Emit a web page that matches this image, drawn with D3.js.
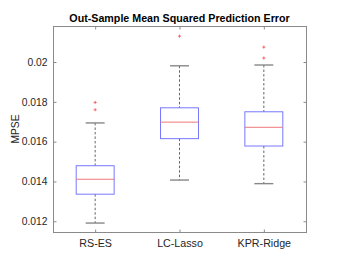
<!DOCTYPE html>
<head>
    <script src="https://d3js.org/d3.v7.js"></script>
    <style>
        body { margin: 0; background: #fff; }
        text { font-family: "Liberation Sans", Arial, sans-serif; }
    </style>
</head>
<html>
<body>
<div class="graph"></div>
<script>
    // values
    const groups    = ['RS-ES', 'LC-Lasso', 'KPR-Ridge']
    const whiskerLo = [0.01191, 0.01407, 0.01389]
    const q1        = [0.01336, 0.01615, 0.01578]
    const medians   = [0.01411, 0.01698, 0.01672]
    const q3        = [0.01479, 0.01770, 0.01750]
    const whiskerHi = [0.01694, 0.01981, 0.01985]
    const outliers  = [[0.01797, 0.01760], [0.02130], [0.02075, 0.02020]]
    const yTicks    = [0.012, 0.014, 0.016, 0.018, 0.02]

    const w = 346
    const h = 268
    const padLeft = 53, padRight = 306, padTop = 26, padBottom = 232

    const data = groups.map((g, i) => ({
        name: g, lo: whiskerLo[i], q1: q1[i], med: medians[i], q3: q3[i], hi: whiskerHi[i], out: outliers[i]
    }))

    const xScale = d3.scalePoint()
        .domain(groups)
        .range([padLeft, padRight])
        .padding(0.5)

    const yScale = d3.scaleLinear()
        .domain([0.01146, 0.02181])
        .range([padBottom, padTop])

    const boxW = xScale.step() * 0.45
    const capW = boxW / 2

    const svg = d3.select('.graph')
        .append('svg')
        .attr('width', w)
        .attr('height', h)

    svg.append('rect')
        .attr('width', w).attr('height', h)
        .attr('fill', '#fff')

    const axisColor = '#8a8a8a'
    const fmt = d => d3.format('')(+d.toFixed(3))

    // frame
    svg.append('rect')
        .attr('x', padLeft + 0.5).attr('y', padTop + 0.5)
        .attr('width', padRight - padLeft).attr('height', padBottom - padTop)
        .attr('fill', 'none')
        .attr('stroke', axisColor)

    const styleAxis = (g, size) => {
        g.select('.domain').remove()
        g.selectAll('line').attr('stroke', axisColor)
        g.selectAll('text')
            .attr('fill', '#262626')
            .style('font-size', size || '10px')
            .style('font-family', '"Liberation Sans", Arial, sans-serif')
    }

    svg.append('g')
        .attr('transform', 'translate(' + (padLeft + 0.5) + ',0)')
        .call(d3.axisLeft(yScale).tickValues(yTicks).tickFormat(fmt).tickSizeInner(-3).tickSizeOuter(0).tickPadding(6))
        .call(styleAxis, '10.3px')

    svg.append('g')
        .attr('transform', 'translate(' + (padRight + 0.5) + ',0)')
        .call(d3.axisRight(yScale).tickValues(yTicks).tickFormat('').tickSizeInner(-3).tickSizeOuter(0))
        .call(styleAxis)

    svg.append('g')
        .attr('transform', 'translate(0,' + (padBottom + 0.5) + ')')
        .call(d3.axisBottom(xScale).tickSizeInner(-3).tickSizeOuter(0).tickPadding(7))
        .call(styleAxis, '10.7px')

    svg.append('g')
        .attr('transform', 'translate(0,' + (padTop + 0.5) + ')')
        .call(d3.axisTop(xScale).tickFormat('').tickSizeInner(-3).tickSizeOuter(0))
        .call(styleAxis)

    const box = svg.selectAll('.box')
        .data(data)
        .enter()
        .append('g')
        .attr('class', 'box')

    // whiskers
    box.append('line')
        .attr('x1', d => xScale(d.name)).attr('x2', d => xScale(d.name))
        .attr('y1', d => yScale(d.hi)).attr('y2', d => yScale(d.q3))
        .attr('stroke', '#666').attr('stroke-dasharray', '2.5,2')
    box.append('line')
        .attr('x1', d => xScale(d.name)).attr('x2', d => xScale(d.name))
        .attr('y1', d => yScale(d.q1)).attr('y2', d => yScale(d.lo))
        .attr('stroke', '#666').attr('stroke-dasharray', '2.5,2')

    // caps
    box.append('line')
        .attr('x1', d => xScale(d.name) - capW / 2).attr('x2', d => xScale(d.name) + capW / 2)
        .attr('y1', d => yScale(d.hi)).attr('y2', d => yScale(d.hi))
        .attr('stroke', '#888').attr('stroke-width', 1.4)
    box.append('line')
        .attr('x1', d => xScale(d.name) - capW / 2).attr('x2', d => xScale(d.name) + capW / 2)
        .attr('y1', d => yScale(d.lo)).attr('y2', d => yScale(d.lo))
        .attr('stroke', '#888').attr('stroke-width', 1.4)

    // box
    box.append('rect')
        .attr('x', d => xScale(d.name) - boxW / 2)
        .attr('y', d => yScale(d.q3))
        .attr('width', boxW)
        .attr('height', d => yScale(d.q1) - yScale(d.q3))
        .attr('fill', 'none')
        .attr('stroke', '#7777ff')

    // median
    box.append('line')
        .attr('x1', d => xScale(d.name) - boxW / 2).attr('x2', d => xScale(d.name) + boxW / 2)
        .attr('y1', d => yScale(d.med)).attr('y2', d => yScale(d.med))
        .attr('stroke', '#f07878')

    // outliers
    box.selectAll('.out')
        .data(d => d.out.map(v => ({name: d.name, v: v})))
        .enter()
        .append('path')
        .attr('class', 'out')
        .attr('d', d => {
            const x = xScale(d.name), y = yScale(d.v)
            return 'M' + (x - 1.5) + ',' + y + 'H' + (x + 1.5) + 'M' + x + ',' + (y - 1.5) + 'V' + (y + 1.5)
        })
        .attr('stroke', '#ff6060')
        .attr('fill', 'none')

    svg.append('text')
        .attr('x', (padLeft + padRight) / 2)
        .attr('y', 22)
        .attr('text-anchor', 'middle')
        .style('font-size', '10.7px')
        .style('font-weight', 'bold')
        .attr('fill', '#000')
        .text('Out-Sample Mean Squared Prediction Error')

    svg.append('text')
        .attr('transform', 'translate(19,' + ((padTop + padBottom) / 2) + ') rotate(-90)')
        .attr('text-anchor', 'middle')
        .style('font-size', '10.3px')
        .attr('fill', '#262626')
        .text('MPSE')
</script>
</body>
</html>
